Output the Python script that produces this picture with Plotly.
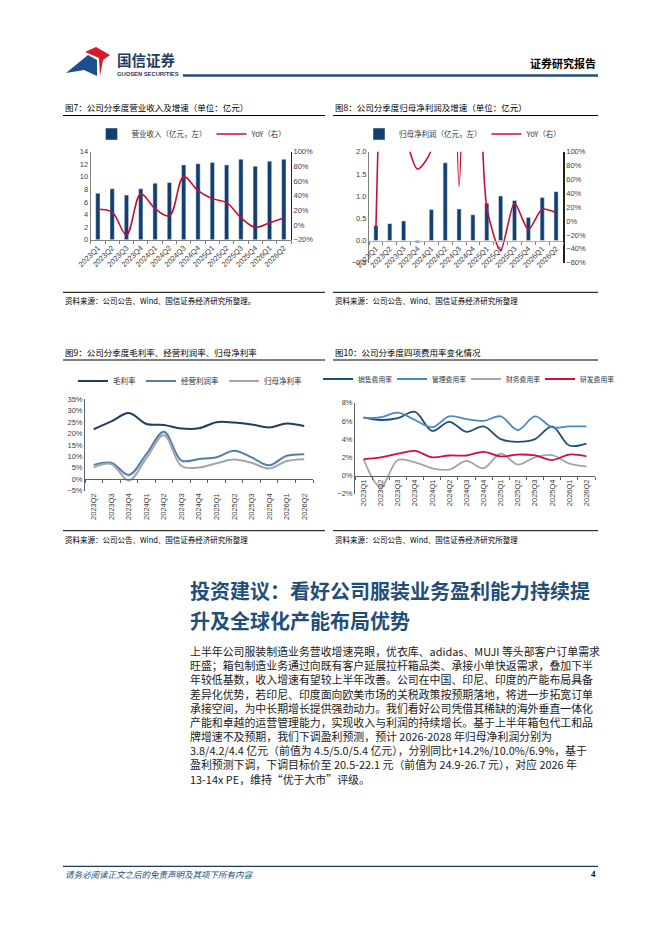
import plotly.graph_objects as go

W, H = 662, 936
def fx(px): return px / W
def fy(py): return 1 - py / H

# ---------------- data ----------------
quarters14 = ["2023Q1", "2023Q2", "2023Q3", "2023Q4", "2024Q1", "2024Q2", "2024Q3",
              "2024Q4", "2025Q1", "2025Q2", "2025Q3", "2025Q4", "2026Q1", "2026Q2"]
quarters13 = quarters14[1:]

revenue = [7.4, 8.1, 7.1, 8.1, 9.0, 9.1, 11.9, 12.1, 12.3, 11.9, 12.8, 11.7, 12.5, 12.8]
revenue_yoy = [21.5, 17.5, -13.5, 42.5, 22.5, 12.5, 66, 47, 36, 30.5, 10, -3, 3, 9.5]

net_profit = [0.34, 0.38, 0.44, -0.05, 0.70, 1.75, 0.71, 0.58, 0.84, 1.00, 0.90, 0.52, 0.97, 1.10]
net_profit_yoy = [-10, 600, 140, 75, 103, 1200, 50, 800, 20, -42, 26, -12, 17, 12]

gross_margin = [21.9, 25.3, 29.0, 24.2, 23.8, 22.2, 22.3, 25.0, 24.8, 24.0, 22.7, 24.4, 23.3]
op_margin = [6.3, 7.2, 1.9, 11.0, 20.8, 8.2, 8.9, 9.6, 12.5, 9.6, 6.1, 10.3, 11.0]
net_margin = [5.2, 6.7, -0.6, 9.3, 19.4, 5.8, 5.1, 7.0, 8.6, 7.2, 4.7, 8.0, 8.8]

selling_rate = [6.4, 6.1, 6.3, 7.0, 4.9, 5.9, 4.8, 5.4, 4.0, 3.7, 4.0, 5.4, 3.3, 3.5]
admin_rate = [6.3, 6.4, 6.9, 6.1, 5.3, 6.5, 6.2, 6.0, 6.5, 5.0, 6.5, 5.3, 5.4, 5.4]
finance_rate = [1.8, -1.25, 1.7, 1.45, 0.8, 0.65, 1.6, 0.8, 2.4, 1.2, 2.0, 2.25, 1.3, 1.0]
rd_rate = [1.8, 2.0, 2.4, 2.7, 2.0, 2.2, 2.2, 2.6, 2.1, 2.3, 2.2, 1.7, 2.3, 2.1]

body_lines = [
    "上半年公司服装制造业务营收增速亮眼，优衣库、adidas、MUJI 等头部客户订单需求",
    "旺盛；箱包制造业务通过向既有客户延展拉杆箱品类、承接小单快返需求，叠加下半",
    "年较低基数，收入增速有望较上半年改善。公司在中国、印尼、印度的产能布局具备",
    "差异化优势，若印尼、印度面向欧美市场的关税政策按预期落地，将进一步拓宽订单",
    "承接空间，为中长期增长提供强劲动力。我们看好公司凭借其稀缺的海外垂直一体化",
    "产能和卓越的运营管理能力，实现收入与利润的持续增长。基于上半年箱包代工和品",
    "牌增速不及预期，我们下调盈利预测，预计 2026-2028 年归母净利润分别为",
    "3.8/4.2/4.4 亿元（前值为 4.5/5.0/5.4 亿元），分别同比+14.2%/10.0%/6.9%，基于",
    "盈利预测下调，下调目标价至 20.5-22.1 元（前值为 24.9-26.7 元），对应 2026 年",
    "13-14x PE，维持“优于大市”评级。",
]

# ---------------- style ----------------
NAVY = "#123f6e"
RED = "#c8102e"
CJK = "Noto Sans CJK SC"
NUM = "Liberation Sans, Noto Sans CJK SC"
TICKC = "#404040"
tickfont = dict(family=NUM, size=7.5, color=TICKC)

fig = go.Figure()

# Chart 7
fig.add_trace(go.Bar(x=quarters14, y=revenue, name="营业收入（亿元，左）", marker_color=NAVY,
                     width=0.3, xaxis="x", yaxis="y", legend="legend"))
fig.add_trace(go.Scatter(x=quarters14, y=revenue_yoy, name="YoY（右）", mode="lines",
                         line=dict(color=RED, width=1.6, shape="spline"),
                         xaxis="x", yaxis="y2", legend="legend"))
# Chart 8
fig.add_trace(go.Bar(x=quarters14, y=net_profit, name="归母净利润（亿元，左）", marker_color=NAVY,
                     width=0.3, xaxis="x2", yaxis="y3", legend="legend2"))
fig.add_trace(go.Scatter(x=quarters14, y=net_profit_yoy, name="YoY（右）", mode="lines",
                         line=dict(color=RED, width=1.6, shape="spline", smoothing=0.7),
                         xaxis="x2", yaxis="y4", legend="legend2"))
# Chart 9
for vals, nm, col in [(gross_margin, "毛利率", "#1f3f60"),
                      (op_margin, "经营利润率", "#4f7fae"),
                      (net_margin, "归母净利率", "#a5a5a5")]:
    fig.add_trace(go.Scatter(x=quarters13, y=vals, name=nm, mode="lines",
                             line=dict(color=col, width=2, shape="spline"),
                             xaxis="x3", yaxis="y5", legend="legend3"))
fig.add_trace(go.Scatter(x=quarters13, y=gross_margin, mode="lines", opacity=0,
                         showlegend=False, hoverinfo="skip", xaxis="x5", yaxis="y5"))
# Chart 10
for vals, nm, col in [(selling_rate, "销售费用率", "#1f4e79"),
                      (admin_rate, "管理费用率", "#4a8ac4"),
                      (finance_rate, "财务费用率", "#a5a5a5"),
                      (rd_rate, "研发费用率", "#d0103a")]:
    fig.add_trace(go.Scatter(x=quarters14, y=vals, name=nm, mode="lines",
                             line=dict(color=col, width=1.8, shape="spline"),
                             xaxis="x4", yaxis="y6", legend="legend4"))

# ---------------- axes ----------------
def xcat(dom, n, **kw):
    d = dict(domain=dom, type="category", range=[-0.5, n - 0.5], tickfont=tickfont,
             showgrid=False, zeroline=False, fixedrange=True, automargin=False)
    d.update(kw)
    return d

def yax(dom, rng, dtick, **kw):
    d = dict(domain=dom, range=rng, dtick=dtick, tickfont=tickfont, showgrid=False,
             zeroline=False, fixedrange=True, ticks="", showline=True, linecolor="#808080",
             linewidth=1, automargin=False)
    d.update(kw)
    return d

# chart 7
y7 = [fy(239.7), fy(151.7)]
fig.update_layout(
    xaxis=xcat([fx(90.7), fx(291)], 14, anchor="y", tickangle=-45, ticks="outside",
               tickson="boundaries", ticklen=3, tickcolor="#808080", showline=True,
               linecolor="#808080"),
    yaxis=yax(y7, [0, 14], 2, anchor="x"),
    yaxis2=yax(y7, [-20, 100], 20, anchor="x", overlaying="y", side="right",
               ticksuffix="%", linecolor="#202020"),
)
# chart 8
y8 = [fy(262.7), fy(151.7)]
pos8 = y8[0] + (0 - (-0.5)) / 2.5 * (y8[1] - y8[0])
fig.update_layout(
    xaxis2=xcat([fx(369), fx(563)], 14, anchor="free", position=pos8, tickangle=-45,
                ticks="outside", tickson="boundaries", ticklen=3, tickcolor="#808080",
                showline=True, linecolor="#b0b0b0"),
    yaxis3=yax(y8, [-0.5, 2.0], 0.5, anchor="x2", tickformat=".1f"),
    yaxis4=yax(y8, [-60, 100], 20, anchor="x2", overlaying="y3", side="right",
               ticksuffix="%", linecolor="#202020", linewidth=1.5),
)
# chart 9
y9 = [fy(490.7), fy(399.3)]
pos9 = y9[0] + (0 - (-5)) / 40 * (y9[1] - y9[0])
fig.update_layout(
    xaxis3=xcat([fx(85), fx(313)], 13, anchor="y5", tickangle=-90, ticks=""),
    xaxis5=xcat([fx(85), fx(313)], 13, anchor="free", position=pos9, overlaying="x3",
                showticklabels=False, ticks="outside", tickson="boundaries", ticklen=3,
                tickcolor="#606060", showline=True, linecolor="#606060"),
    yaxis5=yax(y9, [-5, 35], 5, anchor="x3", ticksuffix="%", linecolor="#606060"),
)
# chart 10
y10 = [fy(493.7), fy(402.7)]
pos10 = y10[0] + (0 - (-2)) / 10 * (y10[1] - y10[0])
fig.update_layout(
    xaxis4=xcat([fx(355), fx(595)], 14, anchor="free", position=pos10, tickangle=-90,
                ticks="outside", tickson="boundaries", ticklen=3, tickcolor="#606060",
                showline=True, linecolor="#606060"),
    yaxis6=yax(y10, [-2, 8], 2, anchor="x4", ticksuffix="%", linecolor="#606060"),
)

# ---------------- legends ----------------
def leg(cx, cy, size=7.5, entry=None):
    d = dict(orientation="h", x=fx(cx), xanchor="center", y=fy(cy), yanchor="middle",
             font=dict(family=CJK, size=size, color="#333333"), bgcolor="rgba(0,0,0,0)",
             itemwidth=30, tracegroupgap=0)
    if entry:
        d["entrywidth"] = entry
        d["entrywidthmode"] = "pixels"
    return d

fig.update_layout(legend=leg(192, 134), legend2=leg(463, 134),
                  legend3=leg(190, 381, 7.5), legend4=leg(466, 379, 6.8, 29))

# ---------------- shapes & texts ----------------
shapes = []
ann = []

def hline(x0, x1, y, color="#000000", width=1):
    shapes.append(dict(type="line", xref="paper", yref="paper", x0=fx(x0), x1=fx(x1),
                       y0=fy(y), y1=fy(y), line=dict(color=color, width=width)))

def text(x, y, s, size, color="#000000", anchor="left", family=CJK, weight=None, align="left"):
    f = dict(family=family, size=size, color=color)
    if weight:
        f["weight"] = weight
    ann.append(dict(xref="paper", yref="paper", x=fx(x), y=fy(y), text=s, showarrow=False,
                    xanchor=anchor, yanchor="middle", font=f, align=align))

# header
shapes.append(dict(type="path", xref="paper", yref="paper",
                   path="M %f,%f L %f,%f L %f,%f L %f,%f L %f,%f Z" % (
                       fx(66), fy(73), fx(88), fy(55), fx(97), fy(60), fx(97), fy(76), fx(84), fy(70)),
                   fillcolor="#1d4f8c", line=dict(width=0)))
shapes.append(dict(type="path", xref="paper", yref="paper",
                   path="M %f,%f L %f,%f L %f,%f L %f,%f L %f,%f L %f,%f Z" % (
                       fx(85), fy(52), fx(96), fy(47), fx(110), fy(55), fx(103), fy(60),
                       fx(100), fy(76), fx(99), fy(58)),
                   fillcolor="#d7192a", line=dict(width=0)))
text(115, 59.5, "国信证券", 14.5, "#243b63", weight="bold")
text(115, 74, "GUOSEN SECURITIES", 5.8, "#243b63", family="Liberation Sans", weight="bold")
text(598, 63, "证券研究报告", 11, "#000000", anchor="right", weight="bold")
hline(183, 598, 75.5, "#1f4e79", 2.5)

# chart titles and sources
text(63, 107, "图7：公司分季度营业收入及增速（单位：亿元）", 8.5)
text(333, 107, "图8：公司分季度归母净利润及增速（单位：亿元）", 8.5)
hline(63, 325, 115.5, "#000000", 1)
hline(333, 598, 115.5, "#000000", 1)
hline(63, 325, 292.3, "#000000", 1)
hline(333, 598, 292.3, "#000000", 1)
text(63, 300, "资料来源：公司公告、Wind、国信证券经济研究所整理。", 7.5)
text(333, 300.5, "资料来源：公司公告、Wind、国信证券经济研究所整理", 7.5)

text(63, 352, "图9：公司分季度毛利率、经营利润率、归母净利率", 8.5)
text(333, 352, "图10：公司分季度四项费用率变化情况", 8.5)
hline(63, 325, 360, "#000000", 1)
hline(333, 598, 360, "#000000", 1)
hline(63, 325, 530.7, "#000000", 1)
hline(333, 598, 530.7, "#000000", 1)
text(63, 539.3, "资料来源：公司公告、Wind、国信证券经济研究所整理", 7.5)
text(333, 539.3, "资料来源：公司公告、Wind、国信证券经济研究所整理", 7.5)

# heading and body
text(188, 590.7, "投资建议：看好公司服装业务盈利能力持续提", 20, "#1f4e79", weight="bold")
text(188, 620.5, "升及全球化产能布局优势", 20, "#1f4e79", weight="bold")
text(188, 715.4, "<br>".join(body_lines), 10.9, "#1a1a1a")

# footer
hline(63, 598, 866.4, "#1f3a5a", 1.2)
text(63, 873.6, "<i>请务必阅读正文之后的免责声明及其项下所有内容</i>", 8.5, "#1f4e79")
text(598, 873.6, "4", 9, "#000000", anchor="right", family="Liberation Serif", weight="bold")

fig.update_layout(
    width=W, height=H, margin=dict(l=0, r=0, t=0, b=0, autoexpand=False),
    paper_bgcolor="white", plot_bgcolor="white",
    font=dict(family=CJK, size=8, color="#333333"),
    barmode="group", showlegend=True,
    shapes=shapes, annotations=ann,
)

fig.write_html("out.html", config={"displayModeBar": False},
               post_script="document.body.style.margin='0';")
